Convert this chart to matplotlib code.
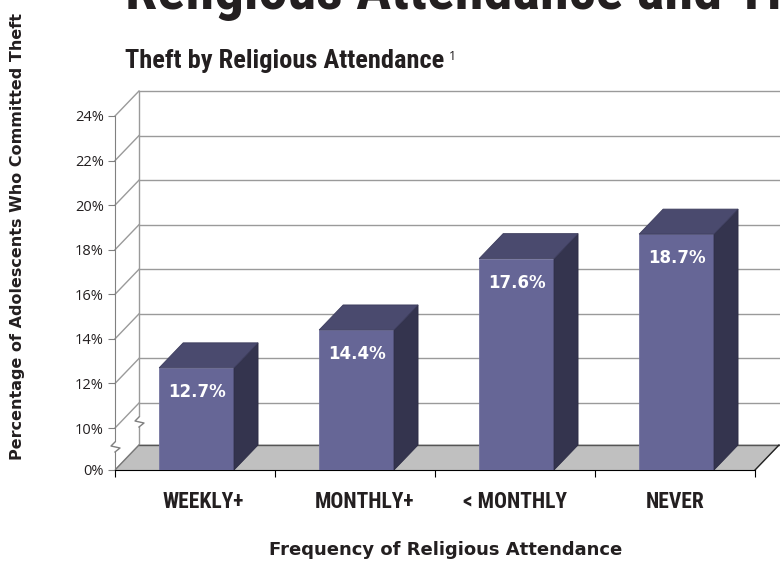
import matplotlib
matplotlib.use("Agg")
import numpy as np
from matplotlib import pyplot as plt
from matplotlib import font_manager

categories = ["WEEKLY+", "MONTHLY+", "< MONTHLY", "NEVER"]
theft_pct = [12.7, 14.4, 17.6, 18.7]
tick_values = [0, 10, 12, 14, 16, 18, 20, 22, 24]
tick_labels = ["0%", "10%", "12%", "14%", "16%", "18%", "20%", "22%", "24%"]

# pixel scale of the original (px per x unit / px per percent step)
PX_X = 160.0
PX_Y = 22.29
BASE = 10 - 42 / PX_Y          # where 0% sits (broken axis)
DX = 24 / PX_X                 # depth offset
DY = 25 / PX_Y


def disp(v):
    """broken axis: 0 squeezed just below 10"""
    return v if v >= 10 else BASE + v * (10 - BASE) / 10


def narrow():
    names = {f.name for f in font_manager.fontManager.ttflist}
    for n in ["Liberation Sans Narrow", "Roboto Condensed", "Open Sans Condensed"]:
        if n in names:
            return n
    return "DejaVu Sans"


NARROW = narrow()
FRONT = "#666696"
TOP = "#4a4a6e"
SIDE = "#34344e"
GRID = "#9a9a9a"
INK = "#231f20"

fig = plt.figure(figsize=(7.8, 5.61), dpi=100)
ax = fig.add_axes([115 / 780, 1 - 470 / 561, (779 - 115) / 780, (470 - 91) / 561])
ax.set_xlim(0, 664 / PX_X)
ax.set_ylim(BASE, 24 + DY)
ax.patch.set_alpha(0)

# back wall and grid
for v in tick_values[1:]:
    ax.plot([DX, 5], [v + DY, v + DY], color=GRID, lw=1, zorder=0.5, clip_on=False)
    ax.plot([0, DX], [v, v + DY], color=GRID, lw=1, zorder=0.5, clip_on=False)
ax.plot([DX, DX], [BASE + DY, 24 + DY], color=GRID, lw=1, zorder=0.6)

# floor
floor = np.array([[0, BASE], [4, BASE], [4 + DX, BASE + DY], [DX, BASE + DY]])
ax.fill(floor[:, 0], floor[:, 1], color="#c0c0c0", zorder=1, clip_on=False)
ax.plot([DX, 5], [BASE + DY, BASE + DY], color="#555555", lw=1, zorder=1.1, clip_on=False)
ax.plot([0, DX], [BASE, BASE + DY], color="#777777", lw=1, zorder=1.1)
ax.plot([4, 4 + DX], [BASE, BASE + DY], color="#222222", lw=1, zorder=1.1, clip_on=False)

# axis breaks
yb = BASE + 23 / PX_Y
for x0, y0 in [(0, yb), (DX, yb + DY)]:
    ax.plot([x0, x0], [y0 - 5 / PX_Y, y0 + 5 / PX_Y], color="white", lw=3, zorder=2.5,
            solid_capstyle="butt", clip_on=False)
    zx = np.array([0, 5, -4, 0]) / PX_X + x0
    zy = np.array([-5, -1, 1, 5]) / PX_Y + y0
    ax.plot(zx, zy, color="#808080", lw=1, zorder=2.6, clip_on=False)

# bars
w = 0.234
for i, (cat, v) in enumerate(zip(categories, theft_pct)):
    c = i + 0.51
    top = disp(v)
    ax.fill([c - w, c + w, c + w, c - w], [BASE, BASE, top, top], color=FRONT,
            ec="#7474a0", lw=0.6, zorder=3)
    ax.fill([c + w, c + w + DX, c + w + DX, c + w], [BASE, BASE + DY, top + DY, top],
            color=SIDE, ec="#2c2c44", lw=0.6, zorder=3)
    ax.fill([c - w, c + w, c + w + DX, c - w + DX], [top, top, top + DY, top + DY],
            color=TOP, ec="#3c3c5c", lw=0.6, zorder=3)
    ax.text(c, top - 24 / PX_Y, f"{v}%", color="white", fontsize=12, fontweight="bold",
            ha="center", va="center", zorder=4)

# axes / ticks
for s in ["top", "right"]:
    ax.spines[s].set_visible(False)
ax.spines["left"].set_bounds(BASE, 24)
ax.spines["left"].set_color("#808080")
ax.spines["bottom"].set_bounds(0, 4)
ax.spines["bottom"].set_color("black")
ax.spines["left"].set_zorder(2)
ax.spines["bottom"].set_zorder(2)
ax.set_yticks([disp(v) for v in tick_values])
ax.set_yticklabels(tick_labels, fontsize=10.5, fontfamily="Open Sans", color=INK)
ax.tick_params(axis="y", direction="out", length=5, color="#808080", pad=3)
ax.set_xticks([0, 1, 2, 3, 4])
ax.set_xticklabels([])
ax.tick_params(axis="x", which="major", direction="out", length=5, color="black")
ax.set_xticks([0.55, 1.56, 2.5, 3.5], minor=True)
ax.set_xticklabels(categories, minor=True, fontsize=15.5, fontweight="bold",
                   fontfamily=NARROW, color=INK)
ax.tick_params(axis="x", which="minor", length=0, pad=15)

ax.set_xlabel("Frequency of Religious Attendance", fontsize=13, fontweight="bold", color=INK)
ax.xaxis.set_label_coords(331 / 664, -(541 - 470) / (470 - 91))
fig.text(18 / 780, 1 - 236 / 561, "Percentage of Adolescents Who Committed Theft",
         rotation=90, fontsize=11.5, fontweight="bold", ha="center", va="center", color=INK)

# titles
fig.text(125 / 780, 1 - 9 / 561, "Religious Attendance and Theft", fontsize=42,
         fontweight="bold", fontfamily=NARROW, ha="left", va="baseline", color=INK)
fig.text(125 / 780, 1 - 68 / 561, "Theft by Religious Attendance", fontsize=19,
         fontweight="bold", fontfamily=NARROW, ha="left", va="baseline", color=INK)
fig.text(449 / 780, 1 - 60 / 561, "1", fontsize=9, fontfamily="Open Sans",
         ha="left", va="baseline", color=INK)

fig.savefig("out.png", dpi=100)
